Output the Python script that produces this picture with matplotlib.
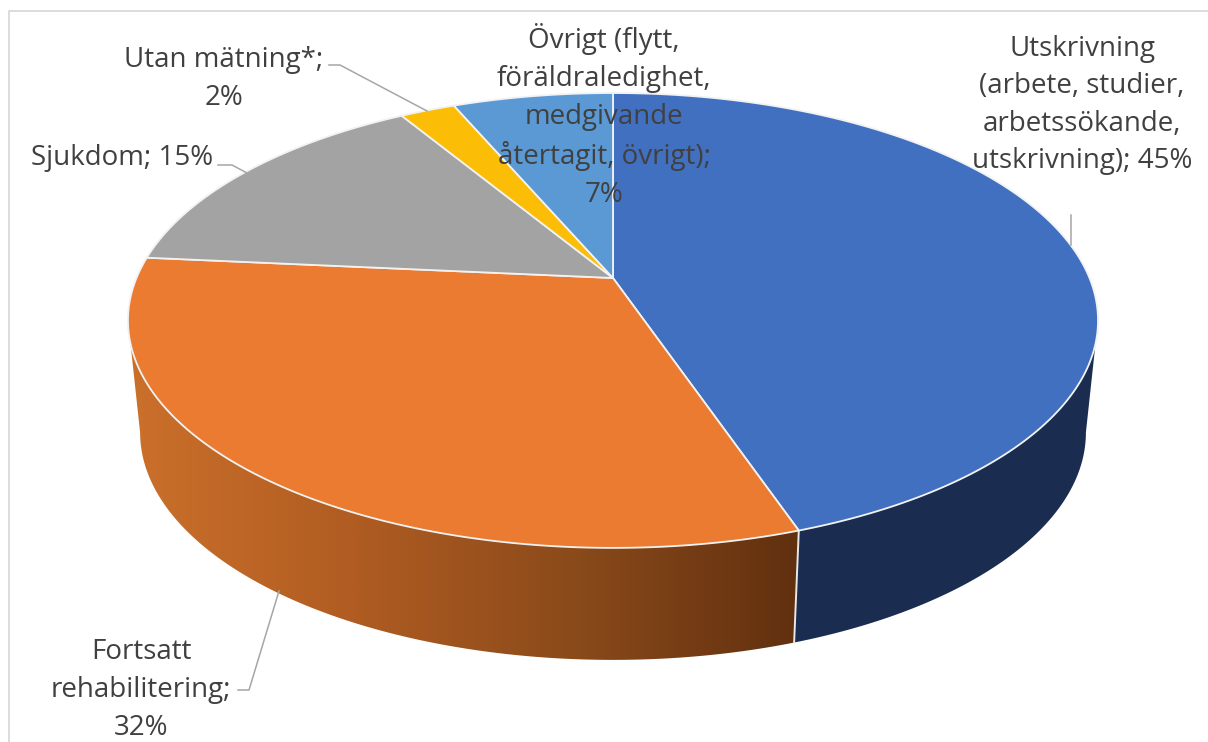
import numpy as np
import matplotlib
matplotlib.use('Agg')
import matplotlib.pyplot as plt
from matplotlib.colors import LinearSegmentedColormap
from matplotlib.patches import Polygon

# shares, labels are the rounded ones in the chart
categories = ['Utskrivning', 'Fortsatt rehabilitering', 'Sjukdom', 'Utan mätning*', 'Övrigt']
shares = [44.8, 31.7, 14.9, 2.2, 6.4]
labels = [
    'Utskrivning\n(arbete, studier,\narbetssökande,\nutskrivning); 45%',
    'Fortsatt\nrehabilitering;\n32%',
    'Sjukdom; 15%',
    'Utan mätning*;\n2%',
    'Övrigt (flytt,\nföräldraledighet,\nmedgivande\nåtertagit, övrigt);\n7%',
]
colors = ['#4270C0', '#EA7B31', '#A3A3A3', '#FBBD05', '#5A99D4']

plt.rcParams['font.family'] = ['Open Sans', 'DejaVu Sans']
ink = '#404040'
leader = '#A6A6A6'

# pie geometry in pixels, with a bit of perspective
cx, apex_y = 613, 278
a, b, k = 476.5, 219.5, 0.1867
depth, wall_scale = 112, 0.975


def top_rim(theta):
    u, v = np.sin(theta), np.cos(theta)
    d = 1 + k * v
    return cx + a * u / d, apex_y - b * v / d


def low_rim(theta):
    x, y = top_rim(theta)
    return cx + (x - cx) * wall_scale, y + depth


fig = plt.figure(figsize=(12.08, 7.42), dpi=100)
ax = fig.add_axes([0, 0, 1, 1])
ax.set_xlim(0, 1208)
ax.set_ylim(742, 0)
ax.axis('off')

ax.plot([9, 9, 1208], [742, 11, 11], color='#D9D9D9', lw=1.3, zorder=1)

edges = np.radians(np.cumsum([0] + shares) * 3.6)
tangent = np.arccos(-k)

# side walls, only the two front slices show
t1 = np.linspace(tangent, edges[1], 200)
x1, y1 = top_rim(t1)
x2, y2 = low_rim(t1)
ax.add_patch(Polygon(np.r_[np.c_[x1, y1], np.c_[x2, y2][::-1]], fc='#1A2D50', ec='none', zorder=2))

t2 = np.linspace(edges[1], 2 * np.pi - tangent, 300)
x1, y1 = top_rim(t2)
x2, y2 = low_rim(t2)
wall = Polygon(np.r_[np.c_[x1, y1], np.c_[x2, y2][::-1]], fc='none', ec='none', zorder=2)
ax.add_patch(wall)
cmap = LinearSegmentedColormap.from_list('wall', ['#CB702B', '#B05C22', '#8A4A1A', '#61300F'])
grad = ax.imshow(np.linspace(0, 1, 512).reshape(1, -1), extent=(130, 800, 700, 300), cmap=cmap,
                 aspect='auto', zorder=2, interpolation='bilinear')
grad.set_clip_path(wall)
ax.set_xlim(0, 1208)
ax.set_ylim(742, 0)

# white line between the wall pieces
x1, y1 = top_rim(edges[1])
x2, y2 = low_rim(edges[1])
ax.plot([x1, x2], [y1, y2], color='#E8E8E8', lw=1.4, zorder=3)

# top face
for i, c in enumerate(colors):
    t = np.linspace(edges[i], edges[i + 1], 200)
    x, y = top_rim(t)
    pts = np.r_[[[cx, apex_y]], np.c_[x, y]]
    ax.add_patch(Polygon(pts, fc=c, ec='#F2F2F2', lw=1.3, joinstyle='round', zorder=4))

# leader lines
ax.plot([329, 340, 427], [65, 65, 111], color=leader, lw=1.1, zorder=5)
ax.plot([218, 232, 247], [165, 165, 173], color=leader, lw=1.1, zorder=5)
ax.plot([238, 249, 279], [690, 690, 591], color=leader, lw=1.1, zorder=5)
ax.plot([1071, 1071], [215, 245], color=leader, lw=1.1, zorder=5)

label_pos = [(1082, 105), (141, 690), (122, 158), (224, 79), (604, 116)]
for text, (x, y) in zip(labels, label_pos):
    ax.text(x, y, text, ha='center', va='center', ma='center', fontsize=20, color=ink,
            linespacing=1.46, zorder=6)

fig.savefig('out.png', dpi=100, facecolor='white')
